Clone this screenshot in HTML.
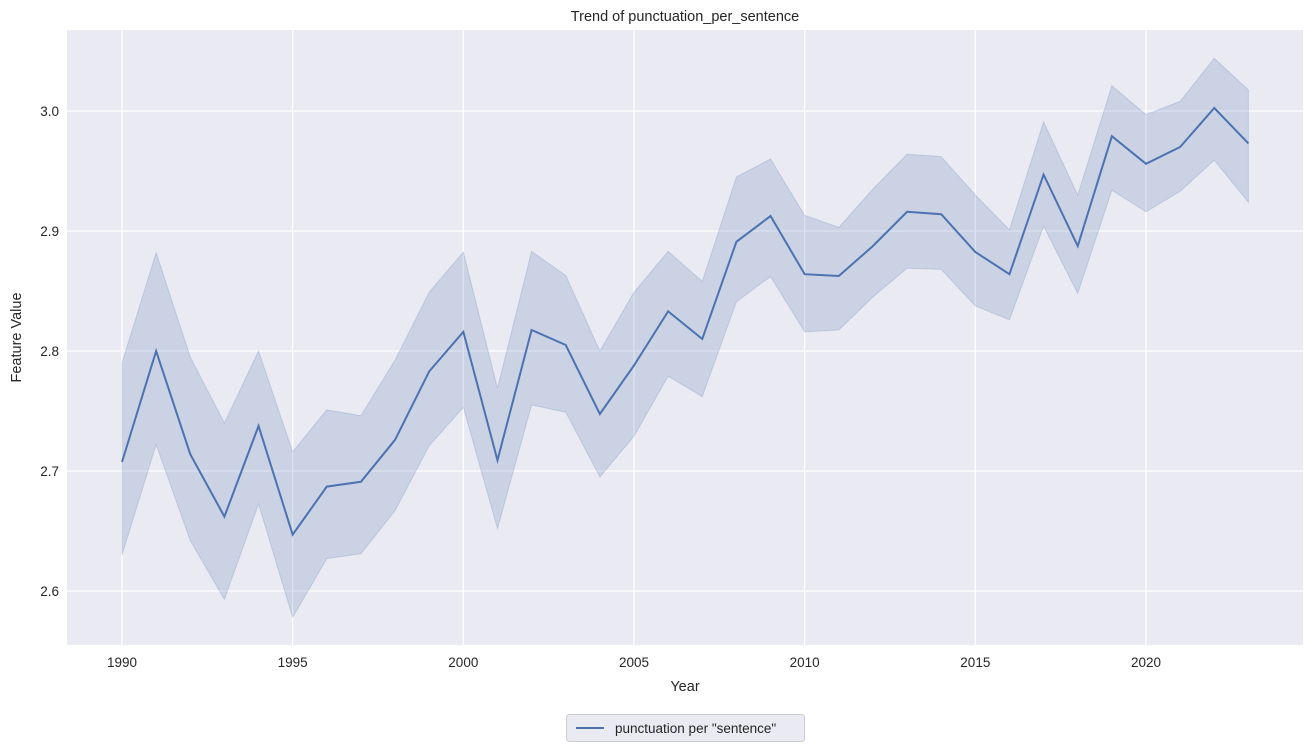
<!DOCTYPE html>
<html><head><meta charset="utf-8"><style>
html,body{margin:0;padding:0;background:#fff;}
svg{display:block;font-family:"Liberation Sans",Arial,sans-serif;}
</style></head><body>
<svg id="chart" width="1315" height="751"></svg>
<script>
const years=[1990,1991,1992,1993,1994,1995,1996,1997,1998,1999,2000,2001,2002,2003,2004,2005,2006,2007,2008,2009,2010,2011,2012,2013,2014,2015,2016,2017,2018,2019,2020,2021,2022,2023];
const meanValues=[2.7075,2.80,2.714,2.662,2.7375,2.647,2.687,2.691,2.726,2.783,2.816,2.709,2.8175,2.805,2.7475,2.788,2.833,2.81,2.891,2.9125,2.864,2.8625,2.8875,2.916,2.914,2.8825,2.864,2.947,2.8875,2.979,2.956,2.97,3.0025,2.973];
const upperValues=[2.79,2.882,2.795,2.74,2.80,2.716,2.751,2.746,2.7925,2.849,2.8825,2.769,2.883,2.863,2.80,2.849,2.883,2.858,2.945,2.96,2.913,2.903,2.935,2.964,2.962,2.93,2.901,2.991,2.93,3.021,2.997,3.008,3.044,3.0175];
const lowerValues=[2.63,2.722,2.642,2.593,2.6725,2.578,2.627,2.631,2.667,2.721,2.753,2.652,2.755,2.749,2.695,2.729,2.779,2.762,2.841,2.862,2.816,2.8175,2.845,2.869,2.868,2.8375,2.826,2.904,2.848,2.934,2.916,2.933,2.959,2.924];
const xTicks=[1990,1995,2000,2005,2010,2015,2020];
const yTicks=[2.6,2.7,2.8,2.9,3.0];

const NS="http://www.w3.org/2000/svg";
const svg=document.getElementById('chart');
const L=67,R=1303,T=30,B=645;
const x=v=>122+(v-1990)*(1146-122)/30;
const y=v=>111+(3.0-v)*1200;
function mk(tag,attrs,parent){const e=document.createElementNS(NS,tag);for(const k in attrs)e.setAttribute(k,attrs[k]);(parent||svg).appendChild(e);return e;}

const bg=mk('rect',{x:L,y:T,width:R-L,height:B-T,fill:'#eaeaf2'});



xTicks.forEach(t=>{
  const g=mk('line',{x1:x(t),x2:x(t),y1:T,y2:B,stroke:'#fff','stroke-width':1.3});
  
  
  const lb=mk('text',{x:x(t),y:B+22,'text-anchor':'middle','font-size':13.5,fill:'#262626'});
  lb.textContent=t;
  
  
});
yTicks.forEach(t=>{
  const g=mk('line',{x1:L,x2:R,y1:y(t),y2:y(t),stroke:'#fff','stroke-width':1.3});
  
  
  const lb=mk('text',{x:L-8,y:y(t)+5,'text-anchor':'end','font-size':13.5,fill:'#262626'});
  lb.textContent=t.toFixed(1);
  
  
});

let d='M'+years.map((yr,i)=>x(yr)+','+y(upperValues[i])).join(' L');
for(let i=years.length-1;i>=0;i--) d+=' L'+x(years[i])+','+y(lowerValues[i]);
d+='Z';
const band=mk('path',{d:d,fill:'#4c72b0','fill-opacity':0.2,stroke:'#4c72b0','stroke-opacity':0.2});



const line=mk('polyline',{points:years.map((yr,i)=>x(yr)+','+y(meanValues[i])).join(' '),fill:'none',stroke:'#4c72b0','stroke-width':2});



const title=mk('text',{x:(L+R)/2,y:21,'text-anchor':'middle','font-size':14.5,fill:'#262626'});
title.textContent='Trend of punctuation_per_sentence';


const xt=mk('text',{x:(L+R)/2,y:691,'text-anchor':'middle','font-size':14.5,fill:'#262626'});
xt.textContent='Year';


const yt=mk('text',{x:21,y:(T+B)/2,'text-anchor':'middle','font-size':14.5,fill:'#262626',transform:'rotate(-90 21 '+((T+B)/2)+')'});
yt.textContent='Feature Value';



const lg=mk('g',{});


mk('rect',{x:566.5,y:714.5,width:238,height:27,rx:3,fill:'#eaeaf2',stroke:'#cccccc'},lg);
mk('line',{x1:576,x2:604,y1:728,y2:728,stroke:'#4c72b0','stroke-width':2},lg);
const lt=mk('text',{x:615,y:733,'font-size':13.5,fill:'#262626'},lg);
lt.textContent='punctuation per "sentence"';


</script>
</body></html>
